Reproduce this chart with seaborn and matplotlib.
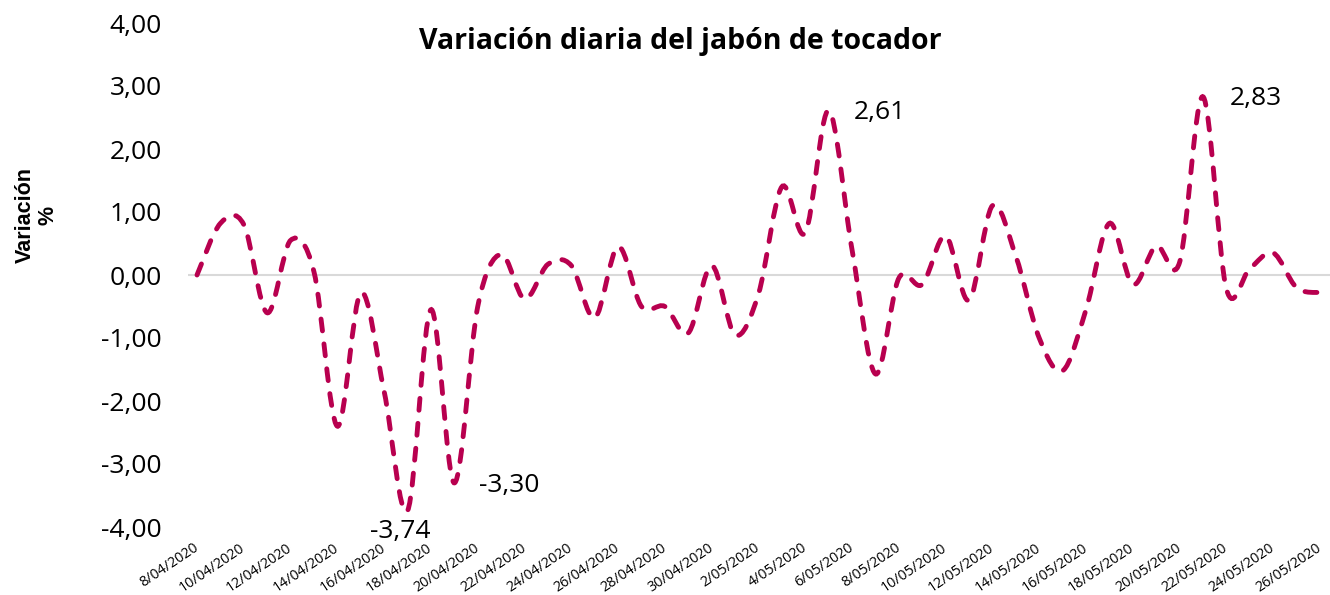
import numpy as np
import pandas as pd
import matplotlib
matplotlib.use("Agg")
import matplotlib.pyplot as plt
from matplotlib.path import Path
from matplotlib.patches import PathPatch
import seaborn as sns

# daily dates 8/04/2020 .. 26/05/2020
fechas = pd.date_range("2020-04-08", "2020-05-26", freq="D")
etiquetas_fecha = [f"{d.day}/{d.month:02d}/{d.year}" for d in fechas]

# variación diaria (%)
variacion = [0.00, 0.82, 0.80, -0.60, 0.55, 0.05, -2.40, -0.28, -1.85, -3.74,
             -0.55, -3.30, -0.50, 0.33, -0.38, 0.17, 0.15, -0.68, 0.45, -0.50,
             -0.50, -0.92, 0.15, -0.95, -0.30, 1.40, 0.67, 2.61, 0.40, -1.57,
             -0.05, -0.15, 0.62, -0.40, 1.10, 0.30, -1.00, -1.52, -0.55, 0.82,
             -0.15, 0.46, 0.20, 2.83, -0.22, 0.10, 0.35, -0.20, -0.28]

# points that carry a data label
puntos_etiqueta = [9, 11, 27, 43]

y_ticks = [-4, -3, -2, -1, 0, 1, 2, 3, 4]

COLOR = "#B8004F"


def smooth_path(xs, ys):
    # Excel-like smoothed line: Catmull-Rom segments as cubic Bezier
    pts = np.column_stack([xs, ys]).astype(float)
    n = len(pts)
    verts = [pts[0]]
    codes = [Path.MOVETO]
    for i in range(n - 1):
        p0 = pts[max(i - 1, 0)]
        p1 = pts[i]
        p2 = pts[i + 1]
        p3 = pts[min(i + 2, n - 1)]
        verts += [p1 + (p2 - p0) / 6, p2 - (p3 - p1) / 6, p2]
        codes += [Path.CURVE4] * 3
    return Path(verts, codes)


sns.set_theme(style="white")
plt.rcParams['font.family'] = ['Open Sans', 'DejaVu Sans']
plt.rcParams['text.color'] = 'black'
plt.rcParams['xtick.color'] = 'black'
plt.rcParams['ytick.color'] = 'black'

W, H = 1330, 595
fig = plt.figure(figsize=(W / 100, H / 100), dpi=100)
ax = fig.add_axes([188 / W, 68 / H, (W - 188) / W, (527 - 23) / H])

x = np.arange(len(variacion))
ax.axhline(0, color="#D9D9D9", lw=1.5, zorder=1)

patch = PathPatch(smooth_path(x, variacion), fill=False, edgecolor=COLOR,
                  lw=3.5, linestyle=(0, (2.45, 2.7)), zorder=3)
patch.set_capstyle("round")
ax.add_patch(patch)

ax.set_xlim(-0.385, len(variacion) - 1 + 0.43)
ax.set_ylim(-4, 4)
ax.set_yticks(y_ticks)
ax.set_yticklabels([f"{v:.2f}".replace(".", ",") for v in y_ticks], fontsize=19)
ax.set_xticks(x[::2])
ax.set_xticklabels(etiquetas_fecha[::2], fontsize=10.3, rotation=34,
                   ha="right", va="center", rotation_mode="anchor")
ax.tick_params(axis="y", length=0, pad=19)
ax.tick_params(axis="x", length=0, pad=14)
ax.grid(False)
sns.despine(ax=ax, left=True, bottom=True, top=True, right=True)

# data labels
offsets = {9: ((-5, -15), "center"), 11: ((18, -2), "left"),
           27: ((18, -1.5), "left"), 43: ((19, -1), "left")}
for i in puntos_etiqueta:
    off, ha = offsets[i]
    ax.annotate(f"{variacion[i]:.2f}".replace(".", ","), xy=(x[i], variacion[i]),
                xytext=off, textcoords="offset points", ha=ha, va="center",
                fontsize=19, color="black")

fig.text(680 / W, 1 - 42 / H, "Variación diaria del jabón de tocador",
         ha="center", va="center", fontsize=20.5, fontweight="bold")
fig.text(37 / W, 1 - 215 / H, "Variación\n%", rotation=90, ha="center",
         va="center", fontsize=15.5, fontweight="bold", multialignment="center",
         linespacing=1.1, family=["Liberation Sans", "DejaVu Sans"])

fig.savefig("out.png", dpi=100)
